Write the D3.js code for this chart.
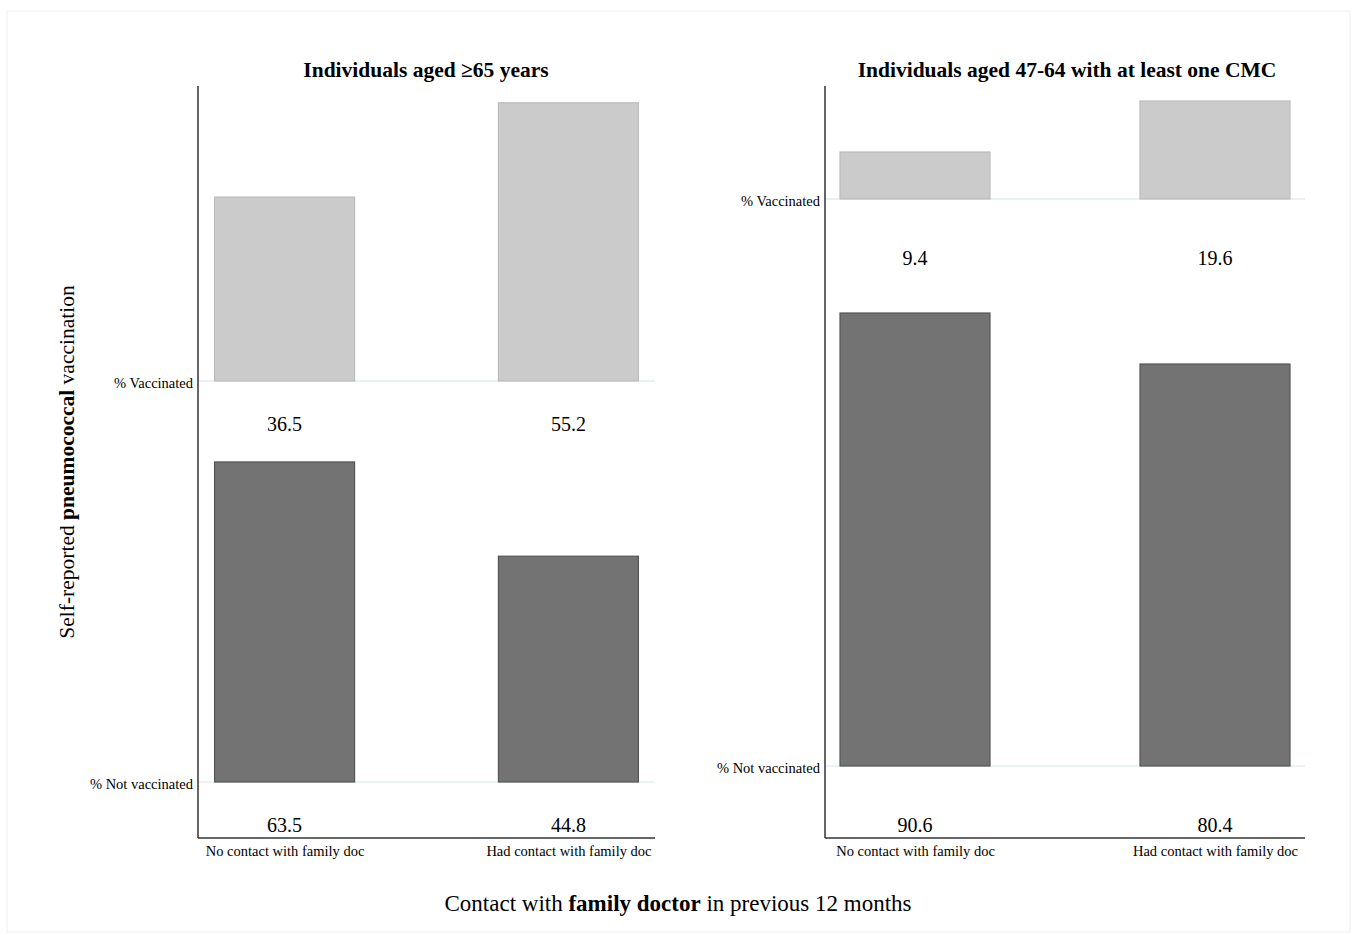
<!DOCTYPE html>
<html><head><meta charset="utf-8">
<script src="https://cdn.jsdelivr.net/npm/d3@7"></script>
<style>body{margin:0;background:#fff}svg{display:block}text{font-family:"Liberation Serif","Times New Roman",serif;fill:#000}</style>
</head><body>
<script>
const contactCategories = ["No contact with family doc", "Had contact with family doc"];
const statusCategories = ["% Vaccinated", "% Not vaccinated"];
const panelTitles = ["Individuals aged \u226565 years", "Individuals aged 47-64 with at least one CMC"];
const olderVaccinated = [36.5, 55.2];
const olderNotVaccinated = [63.5, 44.8];
const cmcVaccinated = [9.4, 19.6];
const cmcNotVaccinated = [90.6, 80.4];

const W = 1354, H = 935;
const svg = d3.select("body").append("svg").attr("width", W).attr("height", H);
svg.append("rect").attr("x", 7).attr("y", 11).attr("width", 1343).attr("height", 921)
  .attr("fill", "#fff").attr("stroke", "#f0f0f0");

const panels = [
  {title: panelTitles[0], series: [olderVaccinated, olderNotVaccinated],
   x0: 198, x1: 655, pad: 0.305, barW: 140, pxPer100: 504, baselines: [381, 782], labelOff: 42.5, titleX: 426},
  {title: panelTitles[1], series: [cmcVaccinated, cmcNotVaccinated],
   x0: 825, x1: 1305, pad: 0.3, barW: 150, pxPer100: 500, baselines: [199, 766], labelOff: 59, titleX: 1067}
];
const plotTop = 86, plotBottom = 838;
const fills = ["#cbcbcb", "#737373"], strokes = ["#bcbcbc", "#555555"];

panels.forEach(p => {
  const g = svg.append("g");
  const xc = d3.scalePoint().domain(contactCategories).range([p.x0, p.x1]).padding(p.pad);
  const yRow = d3.scaleOrdinal().domain(statusCategories).range(p.baselines);
  const h = d3.scaleLinear().domain([0, 100]).range([0, p.pxPer100]);

  statusCategories.forEach(s => {
    g.append("line").attr("x1", p.x0).attr("x2", p.x1).attr("y1", yRow(s)).attr("y2", yRow(s))
      .attr("stroke", "#e4eeee").attr("stroke-width", 1.5);
  });

  statusCategories.forEach((s, si) => {
    const vals = p.series[si];
    g.selectAll(null).data(vals).enter().append("rect")
      .attr("x", (d, i) => xc(contactCategories[i]) - p.barW / 2)
      .attr("width", p.barW)
      .attr("y", d => yRow(s) - h(d))
      .attr("height", d => h(d))
      .attr("fill", fills[si]).attr("stroke", strokes[si]).attr("stroke-width", 1.2);
    g.selectAll(null).data(vals).enter().append("text")
      .attr("x", (d, i) => xc(contactCategories[i]))
      .attr("y", yRow(s) + p.labelOff + 7)
      .attr("text-anchor", "middle").attr("font-size", 20)
      .text(d => d.toFixed(1));
  });

  const yAxis = d3.axisLeft(yRow).tickSize(0).tickPadding(5);
  const ya = g.append("g").attr("transform", `translate(${p.x0},0)`).call(yAxis);
  ya.select(".domain").remove();
  ya.selectAll("text").attr("font-size", 14.5).attr("font-family", '"Liberation Serif",serif').attr("dy", "0.45em");
  g.append("line").attr("x1", p.x0).attr("x2", p.x0).attr("y1", plotTop).attr("y2", plotBottom)
    .attr("stroke", "#333").attr("stroke-width", 1.5);

  const xAxis = d3.axisBottom(xc).tickSize(0).tickPadding(8);
  const xa = g.append("g").attr("transform", `translate(0,${plotBottom})`).call(xAxis);
  xa.select(".domain").remove();
  xa.selectAll("text").attr("font-size", 14.5).attr("font-family", '"Liberation Serif",serif');
  g.append("line").attr("x1", p.x0).attr("x2", p.x1).attr("y1", plotBottom).attr("y2", plotBottom)
    .attr("stroke", "#333").attr("stroke-width", 1.5);

  g.append("text").attr("x", p.titleX).attr("y", 77).attr("text-anchor", "middle")
    .attr("font-size", 21.5).attr("font-weight", "bold").text(p.title);
});

const yt = svg.append("text").attr("transform", "translate(74,462) rotate(-90)")
  .attr("text-anchor", "middle").attr("font-size", 21.5);
yt.append("tspan").text("Self-reported ");
yt.append("tspan").attr("font-weight", "bold").text("pneumococcal");
yt.append("tspan").text(" vaccination");

const xt = svg.append("text").attr("x", 678).attr("y", 911).attr("text-anchor", "middle").attr("font-size", 23);
xt.append("tspan").text("Contact with ");
xt.append("tspan").attr("font-weight", "bold").text("family doctor");
xt.append("tspan").text(" in previous 12 months");
</script>
</body></html>
